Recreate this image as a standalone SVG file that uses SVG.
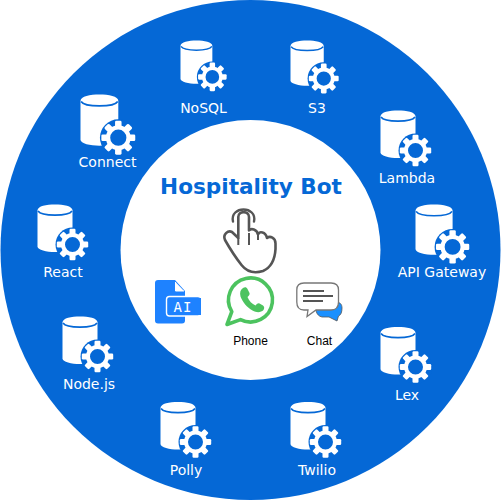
<svg xmlns="http://www.w3.org/2000/svg" xmlns:xlink="http://www.w3.org/1999/xlink" width="501" height="501" viewBox="0 0 501 501">
<style>
.lbl{font-family:"DejaVu Sans",Verdana,sans-serif;font-size:14px;fill:#fff;text-anchor:middle}
.sm{font-family:"Liberation Sans",Arial,sans-serif;font-size:12px;fill:#000;text-anchor:middle}
.hand{fill:#fff;stroke:#555;stroke-width:2.6;stroke-linejoin:round;stroke-linecap:round}
</style>
<defs>
<g id="t"><rect x="-3" y="-15.700" width="6" height="6" rx="1.200" fill="#fff"/></g>
<g id="db">
<path d="M0 6C0 1.500 9 0 17.500 0C26 0 35 1.500 35 6V42C35 45.500 26 47.500 17.500 47.500C9 47.500 0 45.500 0 42Z" fill="#fff"/>
<path d="M0.500 6.500C4 12 31 12 34.500 6.500" fill="none" stroke="#0568d6" stroke-width="1.600"/>
<g transform="translate(35,40)">
<circle r="17" fill="#0568d6"/>
<use xlink:href="#t"/><use xlink:href="#t" transform="rotate(45)"/><use xlink:href="#t" transform="rotate(90)"/><use xlink:href="#t" transform="rotate(135)"/><use xlink:href="#t" transform="rotate(180)"/><use xlink:href="#t" transform="rotate(225)"/><use xlink:href="#t" transform="rotate(270)"/><use xlink:href="#t" transform="rotate(315)"/>
<circle r="9.500" fill="#0568d6" stroke="#fff" stroke-width="4"/>
</g>
</g>
</defs>
<rect width="501" height="501" fill="#fff"/>
<circle cx="250.500" cy="250" r="250" fill="#0568d6"/>
<circle cx="250.500" cy="250" r="130" fill="#fff"/>
<g id="connectors"/>
<g id="nosql"><use xlink:href="#db" transform="translate(180.500,40.500) scale(.91)"/><text class="lbl" x="203.500" y="113">NoSQL</text></g>
<g id="s3"><use xlink:href="#db" transform="translate(290.500,40.500) scale(.95)"/><text class="lbl" x="317" y="113">S3</text></g>
<g id="lambda"><use xlink:href="#db" transform="translate(380.500,110.500)"/><text class="lbl" x="407" y="183">Lambda</text></g>
<g id="api"><use xlink:href="#db" transform="translate(415.500,204.500) scale(1.06)"/><text class="lbl" x="442" y="277">API Gateway</text></g>
<g id="lex"><use xlink:href="#db" transform="translate(380.500,327)"/><text class="lbl" x="407" y="400">Lex</text></g>
<g id="twilio"><use xlink:href="#db" transform="translate(290.500,402)"/><text class="lbl" x="317" y="475">Twilio</text></g>
<g id="polly"><use xlink:href="#db" transform="translate(160.500,402)"/><text class="lbl" x="186" y="475">Polly</text></g>
<g id="nodejs"><use xlink:href="#db" transform="translate(62.500,316.500)"/><text class="lbl" x="89" y="389">Node.js</text></g>
<g id="react"><use xlink:href="#db" transform="translate(37.500,204.500)"/><text class="lbl" x="63" y="277">React</text></g>
<g id="connect"><use xlink:href="#db" transform="translate(80.500,94.500) scale(1.08)"/><text class="lbl" x="107.500" y="167">Connect</text></g>
<g id="title"><text x="251" y="194" font-family="'DejaVu Sans',Verdana,sans-serif" font-weight="700" font-size="21.600" fill="#0568d6" text-anchor="middle">Hospitality Bot</text></g>
<g id="hand">
<path class="hand" d="M238.300 238V217C238.300 210.500 249 210.500 249 217V230.500C251 228 257 229 258 234.500C259.500 231 265.500 231.500 267 238C270 235.500 275.500 237.500 275.500 243.500V249C275 258 272 267 263 271C255 273.500 247 272 241.500 265C236 258 229 247 225 240C222.500 234.500 228 230 232 232L238.300 238Z"/>
<path d="M249 233V245M258 234.500V240M238.300 238V245" fill="none" stroke="#555" stroke-width="2"/>
<path d="M233 221.500C229.500 205.500 257.500 205.500 254 221.500" fill="none" stroke="#555" stroke-width="2.400" stroke-linecap="round"/>
</g>
<g id="ai">
<path d="M158 280H175L185 291V320.500C185 322.500 184 323.500 182 323.500H158C156 323.500 155 322.500 155 320.500V283C155 281 156 280 158 280Z" fill="#1e82ff"/>
<path d="M175.500 282V291H184" fill="#fff" stroke="#fff" stroke-width="1"/>
<rect x="166.500" y="296.500" width="34.500" height="19.500" rx="3" fill="#1e82ff" stroke="#fff" stroke-width="1.400"/>
<rect x="195" y="298" width="6" height="17" fill="#1e82ff"/>
<text x="183" y="311.500" font-family="'DejaVu Sans Mono','Liberation Mono',monospace" font-size="14px" fill="#fff" text-anchor="middle" letter-spacing="1">AI</text>
</g>
<g id="phone">
<path d="M227 324.500L231.800 311.600A22 22 0 1 1 240.500 319.600Z" fill="#fff" stroke="#4cc35f" stroke-width="3.600" stroke-linejoin="round"/>
<path d="M243 288C245 286.500 246.500 287 247.500 289L249.500 293C250 294.500 249 295.500 247.500 297C249 301 252 304 255.500 305.500C257 304 258 303 259.500 303.500L263 305.500C264.500 306.500 264.500 308.500 263.500 310C261 312.500 257 313 252.500 310.500C247 307.500 242.500 302 240.500 296.500C239.500 292.500 240.500 289.500 243 288Z" fill="#4cc35f"/>
<text class="sm" x="250.500" y="345">Phone</text>
</g>
<g id="chat">
<path d="M318 302H335C340 302 342 304 342 308C342 312 341 315 338.500 316L337 321L329 317H322C316 316 314 308 318 302Z" fill="#1a90ff" stroke="#555" stroke-width="0.800"/>
<path d="M304 283H331C336 283 338.500 286 338.500 290V302C338.500 307 336 310 331 310H316L307 316.500L308 310H304C299 310 296.800 307 296.800 302V290C296.800 286 299 283 304 283Z" fill="#fff" stroke="#777" stroke-width="1.300"/>
<path d="M303 291H324M303 296H333M303 301H323" fill="none" stroke="#555" stroke-width="1.800"/>
<text class="sm" x="319.500" y="345">Chat</text>
</g>
</svg>
